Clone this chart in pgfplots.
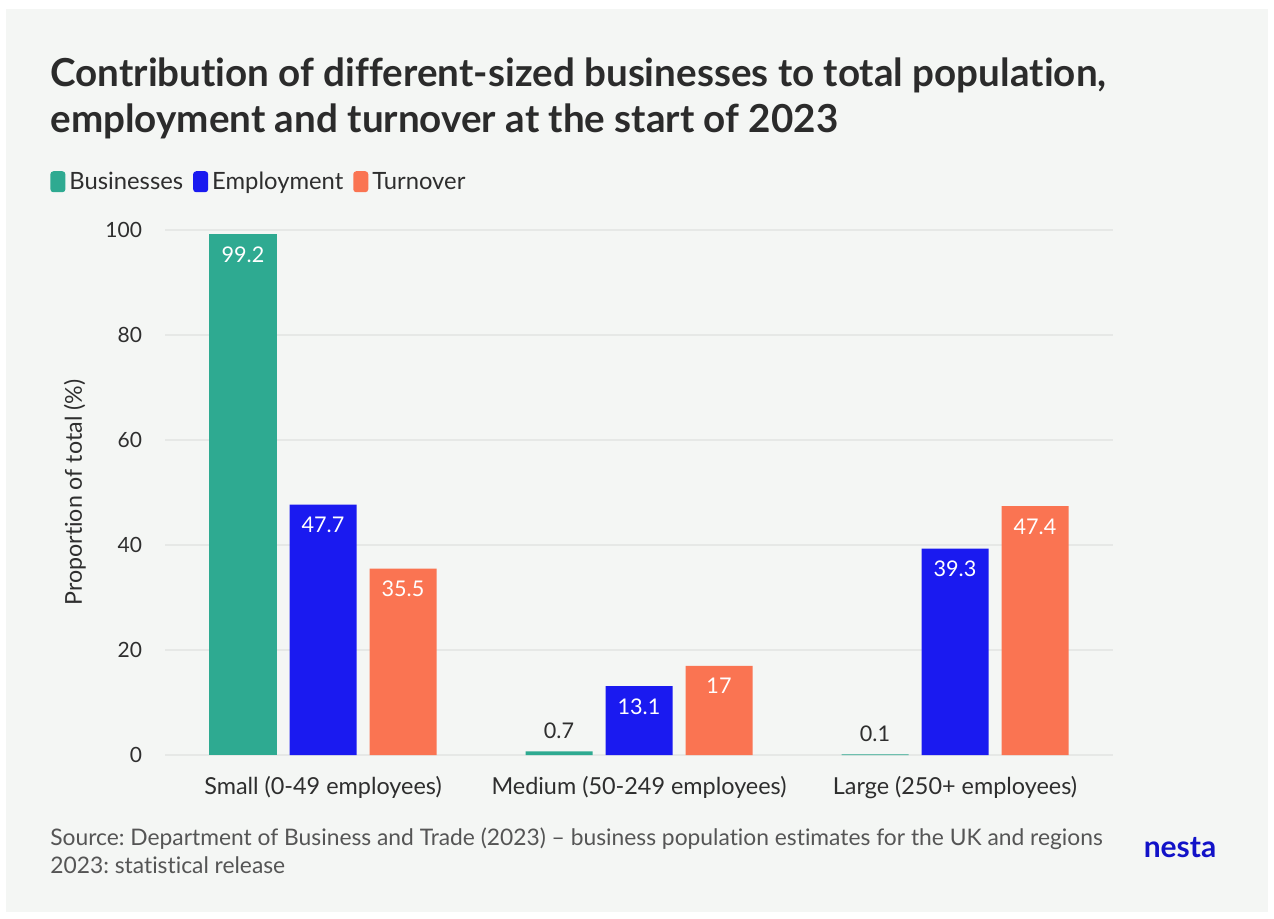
\documentclass[border=0pt]{standalone}
\usepackage{fontspec}
\setmainfont{Lato}[Ligatures={NoCommon}]
\usepackage{pgfplots}
\pgfplotsset{compat=1.18}
\frenchspacing
\definecolor{bgc}{HTML}{F4F6F4}
\definecolor{cBus}{HTML}{2EAA91}
\definecolor{cEmp}{HTML}{1A1AF0}
\definecolor{cTurn}{HTML}{FA7452}
\definecolor{titlec}{HTML}{2B2B2B}
\definecolor{textc}{HTML}{2E2E2E}
\definecolor{srcc}{HTML}{555555}
\definecolor{gridc}{HTML}{E6E8E6}
\definecolor{nestac}{HTML}{1212C8}
\begin{document}
\begin{tikzpicture}
\begin{scope}[x=0.5pt,y=-0.5pt]
\fill[white] (0,0) rectangle (1274,918);
\fill[bgc] (6,9) rectangle (1268,912);
\node[anchor=base west, font=\bfseries\fontsize{19.3}{22}\selectfont, text=titlec, inner sep=0] at (50,86) {Contribution of different-sized businesses to total population,};
\node[anchor=base west, font=\bfseries\fontsize{19.3}{22}\selectfont, text=titlec, inner sep=0] at (50,132) {employment and turnover at the start of 2023};
\node[anchor=base west, font=\fontsize{11.4}{13}\selectfont, text=srcc, inner sep=0] at (50,845) {Source: Department of Business and Trade (2023) -- business population estimates for the UK and regions};
\node[anchor=base west, font=\fontsize{11.4}{13}\selectfont, text=srcc, inner sep=0] at (50,873) {2023: statistical release};
\node[anchor=center, font=\bfseries\fontsize{15}{17}\selectfont, text=nestac, inner sep=0] at (1180,848) {nesta};
\end{scope}
\begin{axis}[
  at={(82.5pt,-377.5pt)}, anchor=south west,
  width=474pt, height=262.5pt, scale only axis,
  xmin=-0.5, xmax=2.5, ymin=0, ymax=100,
  ybar, bar width=33.5pt,
  axis line style={draw=none},
  tick style={draw=none},
  ymajorgrids, grid style={color=gridc, line width=0.7pt},
  xtick={0,1,2},
  xticklabels={Small (0-49 employees), Medium (50-249 employees), Large (250+ employees)},
  ytick={0,20,40,60,80,100},
  /pgf/number format/assume math mode=true,
  ticklabel style={font=\fontsize{10.5}{12}\selectfont, text=textc},
  xticklabel style={yshift=-3pt, font=\fontsize{11.7}{13}\selectfont},
  yticklabel style={xshift=-8pt},
  ylabel={Proportion of total (\%)},
  ylabel style={font=\fontsize{11.6}{13}\selectfont, text=textc, at={(axis description cs:-0.095,0.5)}, anchor=center},
  legend style={at={(axis description cs:-0.1213,1.091)}, anchor=west, draw=none, fill=none,
    font=\fontsize{11.9}{13}\selectfont, text=textc, inner sep=0pt,
    /tikz/every even column/.append style={column sep=3pt},
    /tikz/every odd column/.append style={column sep=0pt}},
  legend columns=-1,
  legend image code/.code={\fill[#1, rounded corners=1.5pt] (0pt,-5pt) rectangle (7.5pt,5.5pt);},
  nodes near coords,
  every node near coord/.append style={font=\fontsize{10.8}{12}\selectfont, inner sep=0pt},
  nodes near coords style={/pgf/number format/assume math mode=true},
]
\addplot[fill=cBus, draw=none, bar shift=-40pt,
  every node near coord/.append style={anchor=north, yshift=-6pt, text=white}]
  coordinates {(0,99.2)};
\addlegendentry{Businesses}
\addplot[fill=cEmp, draw=none, bar shift=0pt,
  every node near coord/.append style={anchor=north, yshift=-6pt, text=white}]
  coordinates {(0,47.7) (1,13.1) (2,39.3)};
\addlegendentry{Employment}
\addplot[fill=cTurn, draw=none, bar shift=40pt,
  every node near coord/.append style={anchor=north, yshift=-6pt, text=white}]
  coordinates {(0,35.5) (1,17) (2,47.4)};
\addlegendentry{Turnover}
\addplot[forget plot, fill=cBus, draw=none, bar shift=-40pt,
  every node near coord/.append style={anchor=south, yshift=6pt, text=textc}]
  coordinates {(1,0.7) (2,0.1)};
\end{axis}
\end{tikzpicture}
\end{document}
